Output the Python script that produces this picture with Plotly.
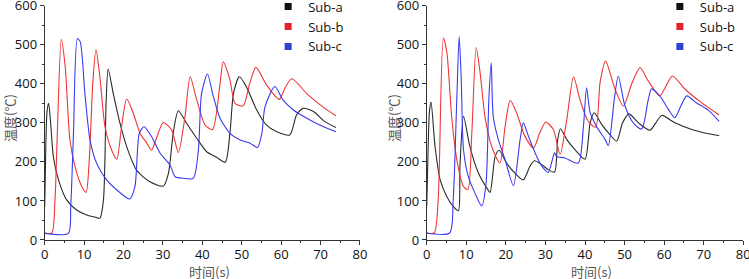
import plotly.graph_objects as go

# ---------------- data ----------------
series_names = ["Sub-a", "Sub-b", "Sub-c"]
x_ticks = [0, 10, 20, 30, 40, 50, 60, 70, 80]
y_ticks = [0, 100, 200, 300, 400, 500, 600]
x_title = "时间(s)"
y_title = "温度(℃)"

# Left panel
t_a1 = [0, 0.3, 0.6, 1.0, 1.5, 2.2, 3.5, 5.6, 8.1, 10.7, 13.0, 14.0, 14.9, 15.6, 16.1, 17.4, 19.1, 20.8, 23.3, 26.7,
        30.1, 31.4, 32.6, 33.9, 36.0, 38.6, 41.1, 43.6, 45.8, 47.0, 47.9, 49.4, 51.2, 53.8, 56.3, 58.9, 62.2, 63.9,
        65.6, 68.2, 71.1, 73.9]
v_a1 = [85, 250, 330, 350, 300, 213, 154, 102, 77, 64, 58, 56, 102, 358, 438, 375, 299, 239, 179, 149,
        138, 171, 273, 331, 299, 260, 226, 212, 199, 273, 375, 418, 392, 333, 294, 277, 269, 320,
        337, 329, 303, 288]
t_b1 = [0, 1.8, 2.6, 3.2, 4.2, 5.2, 6.4, 7.7, 9.4, 10.5, 11.3, 12.2, 13.0, 14.0, 15.3, 17.0, 18.3, 19.5, 20.8, 22.5,
        24.2, 25.9, 27.1, 28.5, 30.1, 32.2, 33.9, 35.6, 36.9, 38.6, 40.7, 42.6, 44.5, 45.3, 47.0, 48.3, 50.4, 52.0,
        53.6, 56.3, 59.5, 61.0, 62.7, 66.5, 69.9, 73.9]
v_b1 = [18, 18, 102, 273, 514, 444, 256, 188, 137, 122, 205, 401, 488, 418, 290, 230, 207, 290, 361, 324,
        273, 248, 230, 265, 301, 282, 224, 316, 418, 358, 294, 283, 401, 456, 410, 350, 344, 400,
        442, 397, 360, 390, 413, 375, 346, 318]
t_c1 = [0, 6.0, 6.6, 7.3, 8.3, 9.0, 10.2, 11.5, 13.2, 15.7, 18.3, 21.6, 22.9, 24.0, 25.2, 27.1, 29.3, 31.8, 33.1,
        35.2, 37.7, 39.0, 39.8, 41.3, 42.8, 44.5, 47.0, 49.6, 52.1, 54.0, 55.1, 55.9, 58.4, 60.5, 63.1, 66.5, 69.9,
        73.9]
v_c1 = [17, 17, 85, 273, 516, 508, 375, 256, 196, 154, 128, 105, 137, 273, 290, 265, 222, 192, 162,
        158, 158, 230, 375, 425, 367, 312, 273, 256, 248, 237, 273, 341, 393, 358, 333, 312, 294,
        277]

# Right panel
t_a2 = [0, 0.4, 0.7, 1.1, 2.1, 3.4, 5.1, 6.7, 8.0, 8.4, 9.3, 10.9, 13.1, 15.2, 16.0, 17.3, 18.3, 20.2, 22.3, 24.4,
        26.1, 27.2, 29.1, 30.7, 32.3, 33.1, 33.8, 35.4, 37.5, 40.0, 41.3, 42.3, 44.2, 46.3, 48.0, 49.5, 51.1, 53.5,
        56.4, 57.9, 59.4, 62.7, 67.0, 71.2, 73.9]
v_a2 = [86, 250, 330, 353, 240, 154, 111, 86, 75, 189, 317, 240, 171, 133, 122, 214, 230, 197, 171, 154,
        189, 203, 193, 180, 174, 257, 285, 257, 231, 207, 300, 326, 296, 270, 253, 300, 323, 300,
        281, 300, 319, 300, 283, 272, 267]
t_b2 = [0, 1.9, 2.9, 4.2, 5.1, 6.3, 7.6, 9.3, 10.4, 11.4, 12.5, 13.5, 14.7, 16.4, 18.5, 19.8, 21.1, 22.7, 24.8,
        27.0, 28.6, 30.1, 32.0, 33.7, 35.4, 37.1, 38.7, 40.8, 42.7, 43.8, 45.2, 47.6, 49.7, 51.8, 53.9, 56.0, 58.9,
        60.5, 62.1, 65.3, 69.5, 73.9]
v_b2 = [18, 18, 103, 518, 480, 317, 206, 137, 129, 274, 493, 428, 317, 240, 197, 290, 358, 326, 266,
        236, 275, 302, 283, 219, 309, 418, 360, 304, 289, 403, 458, 386, 343, 400, 441, 407, 369,
        395, 420, 386, 351, 320]
t_c2 = [0, 5.8, 6.7, 7.6, 8.2, 8.7, 9.3, 10.5, 12.2, 13.9, 15.0, 15.7, 16.3, 16.8, 18.1, 19.8, 21.9, 23.6, 24.4,
        25.7, 27.4, 29.1, 30.7, 32.3, 32.8, 34.9, 38.3, 39.6, 40.4, 41.3, 42.9, 45.1, 45.9, 47.4, 48.4, 50.1, 52.2,
        54.3, 56.0, 56.8, 58.9, 61.1, 62.7, 64.3, 65.7, 68.2, 71.2, 73.9]
v_c2 = [18, 18, 103, 360, 521, 420, 231, 163, 120, 87, 146, 360, 454, 317, 257, 206, 139, 257, 300,
        266, 223, 189, 173, 223, 214, 210, 197, 291, 390, 326, 291, 257, 242, 360, 420, 343, 300,
        284, 360, 387, 369, 334, 313, 345, 369, 351, 332, 304]

line_colors = ["#2a2a2a", "#f03535", "#3a3af0"]
legend_colors = ["#111111", "#e8202a", "#2f3fd0"]

W, H = 749, 279

# ---------------- figure ----------------
fig = go.Figure()

panels = [
    ("x", "y", "legend", [(t_a1, v_a1), (t_b1, v_b1), (t_c1, v_c1)]),
    ("x2", "y2", "legend2", [(t_a2, v_a2), (t_b2, v_b2), (t_c2, v_c2)]),
]
for xa, ya, lg, data in panels:
    for i, (tt, vv) in enumerate(data):
        fig.add_trace(go.Scatter(
            x=tt, y=vv, mode="lines", xaxis=xa, yaxis=ya,
            line=dict(color=line_colors[i], width=1.1, shape="spline", smoothing=0.7),
            showlegend=False, hoverinfo="skip"))
    for i, name in enumerate(series_names):
        fig.add_trace(go.Scatter(
            x=[None], y=[None], mode="markers", name=name, xaxis=xa, yaxis=ya, legend=lg,
            marker=dict(symbol="square", size=7, color=legend_colors[i])))

tick_font = dict(family="Open Sans, Noto Sans, sans-serif", size=13, color="#111111")
title_font = dict(family="Noto Sans CJK SC, sans-serif", size=13, color="#555555")

def xaxis_cfg(domain, anchor):
    return dict(domain=domain, anchor=anchor, range=[0, 80], tickvals=x_ticks,
                showgrid=False, zeroline=False, showline=True, linecolor="#333333", linewidth=1,
                ticks="outside", ticklen=4, tickcolor="#333333", tickwidth=1,
                minor=dict(dtick=5, ticks="outside", ticklen=2, tickcolor="#333333"),
                tickfont=tick_font, automargin=False, ticklabelstandoff=-2,
                ticklabeloverflow="allow")

def yaxis_cfg(anchor):
    return dict(domain=[0.1398, 0.9796], anchor=anchor, range=[0, 600], tickvals=y_ticks,
                showgrid=False, zeroline=False, showline=True, linecolor="#333333", linewidth=1,
                ticks="outside", ticklen=4, tickcolor="#333333", tickwidth=1,
                minor=dict(dtick=50, ticks="outside", ticklen=2, tickcolor="#333333"),
                tickfont=tick_font, automargin=False, ticklabeloverflow="allow")

legend_font = dict(family="Open Sans, sans-serif", size=13, color="#111111")

# axis titles placed as paper annotations (margins are zero)
title_ann = []
for cx in (209, 591):
    title_ann.append(dict(text=x_title, xref="paper", yref="paper", x=cx / W, y=1 - 271 / H,
                          xanchor="center", yanchor="middle", showarrow=False, font=title_font))
for cx in (9, 393):
    title_ann.append(dict(text=y_title, xref="paper", yref="paper", x=cx / W, y=1 - 118 / H,
                          xanchor="center", yanchor="middle", showarrow=False, textangle=-90,
                          font=title_font))

fig.update_layout(
    width=W, height=H,
    margin=dict(l=0, r=0, t=0, b=0, autoexpand=False),
    paper_bgcolor="white", plot_bgcolor="white",
    xaxis=xaxis_cfg([0.0597, 0.4806], "y"),
    yaxis=yaxis_cfg("x"),
    xaxis2=xaxis_cfg([0.5697, 0.9924], "y2"),
    yaxis2=yaxis_cfg("x2"),
    legend=dict(x=0.358, y=1.03, xanchor="left", yanchor="top", bgcolor="rgba(0,0,0,0)",
                font=legend_font, itemwidth=30, tracegroupgap=0),
    legend2=dict(x=0.881, y=1.03, xanchor="left", yanchor="top", bgcolor="rgba(0,0,0,0)",
                 font=legend_font, itemwidth=30, tracegroupgap=0),
    annotations=title_ann,
)

fig.write_html("out.html", config={"displayModeBar": False},
               post_script="document.body.style.margin='0';document.body.style.padding='0';")
